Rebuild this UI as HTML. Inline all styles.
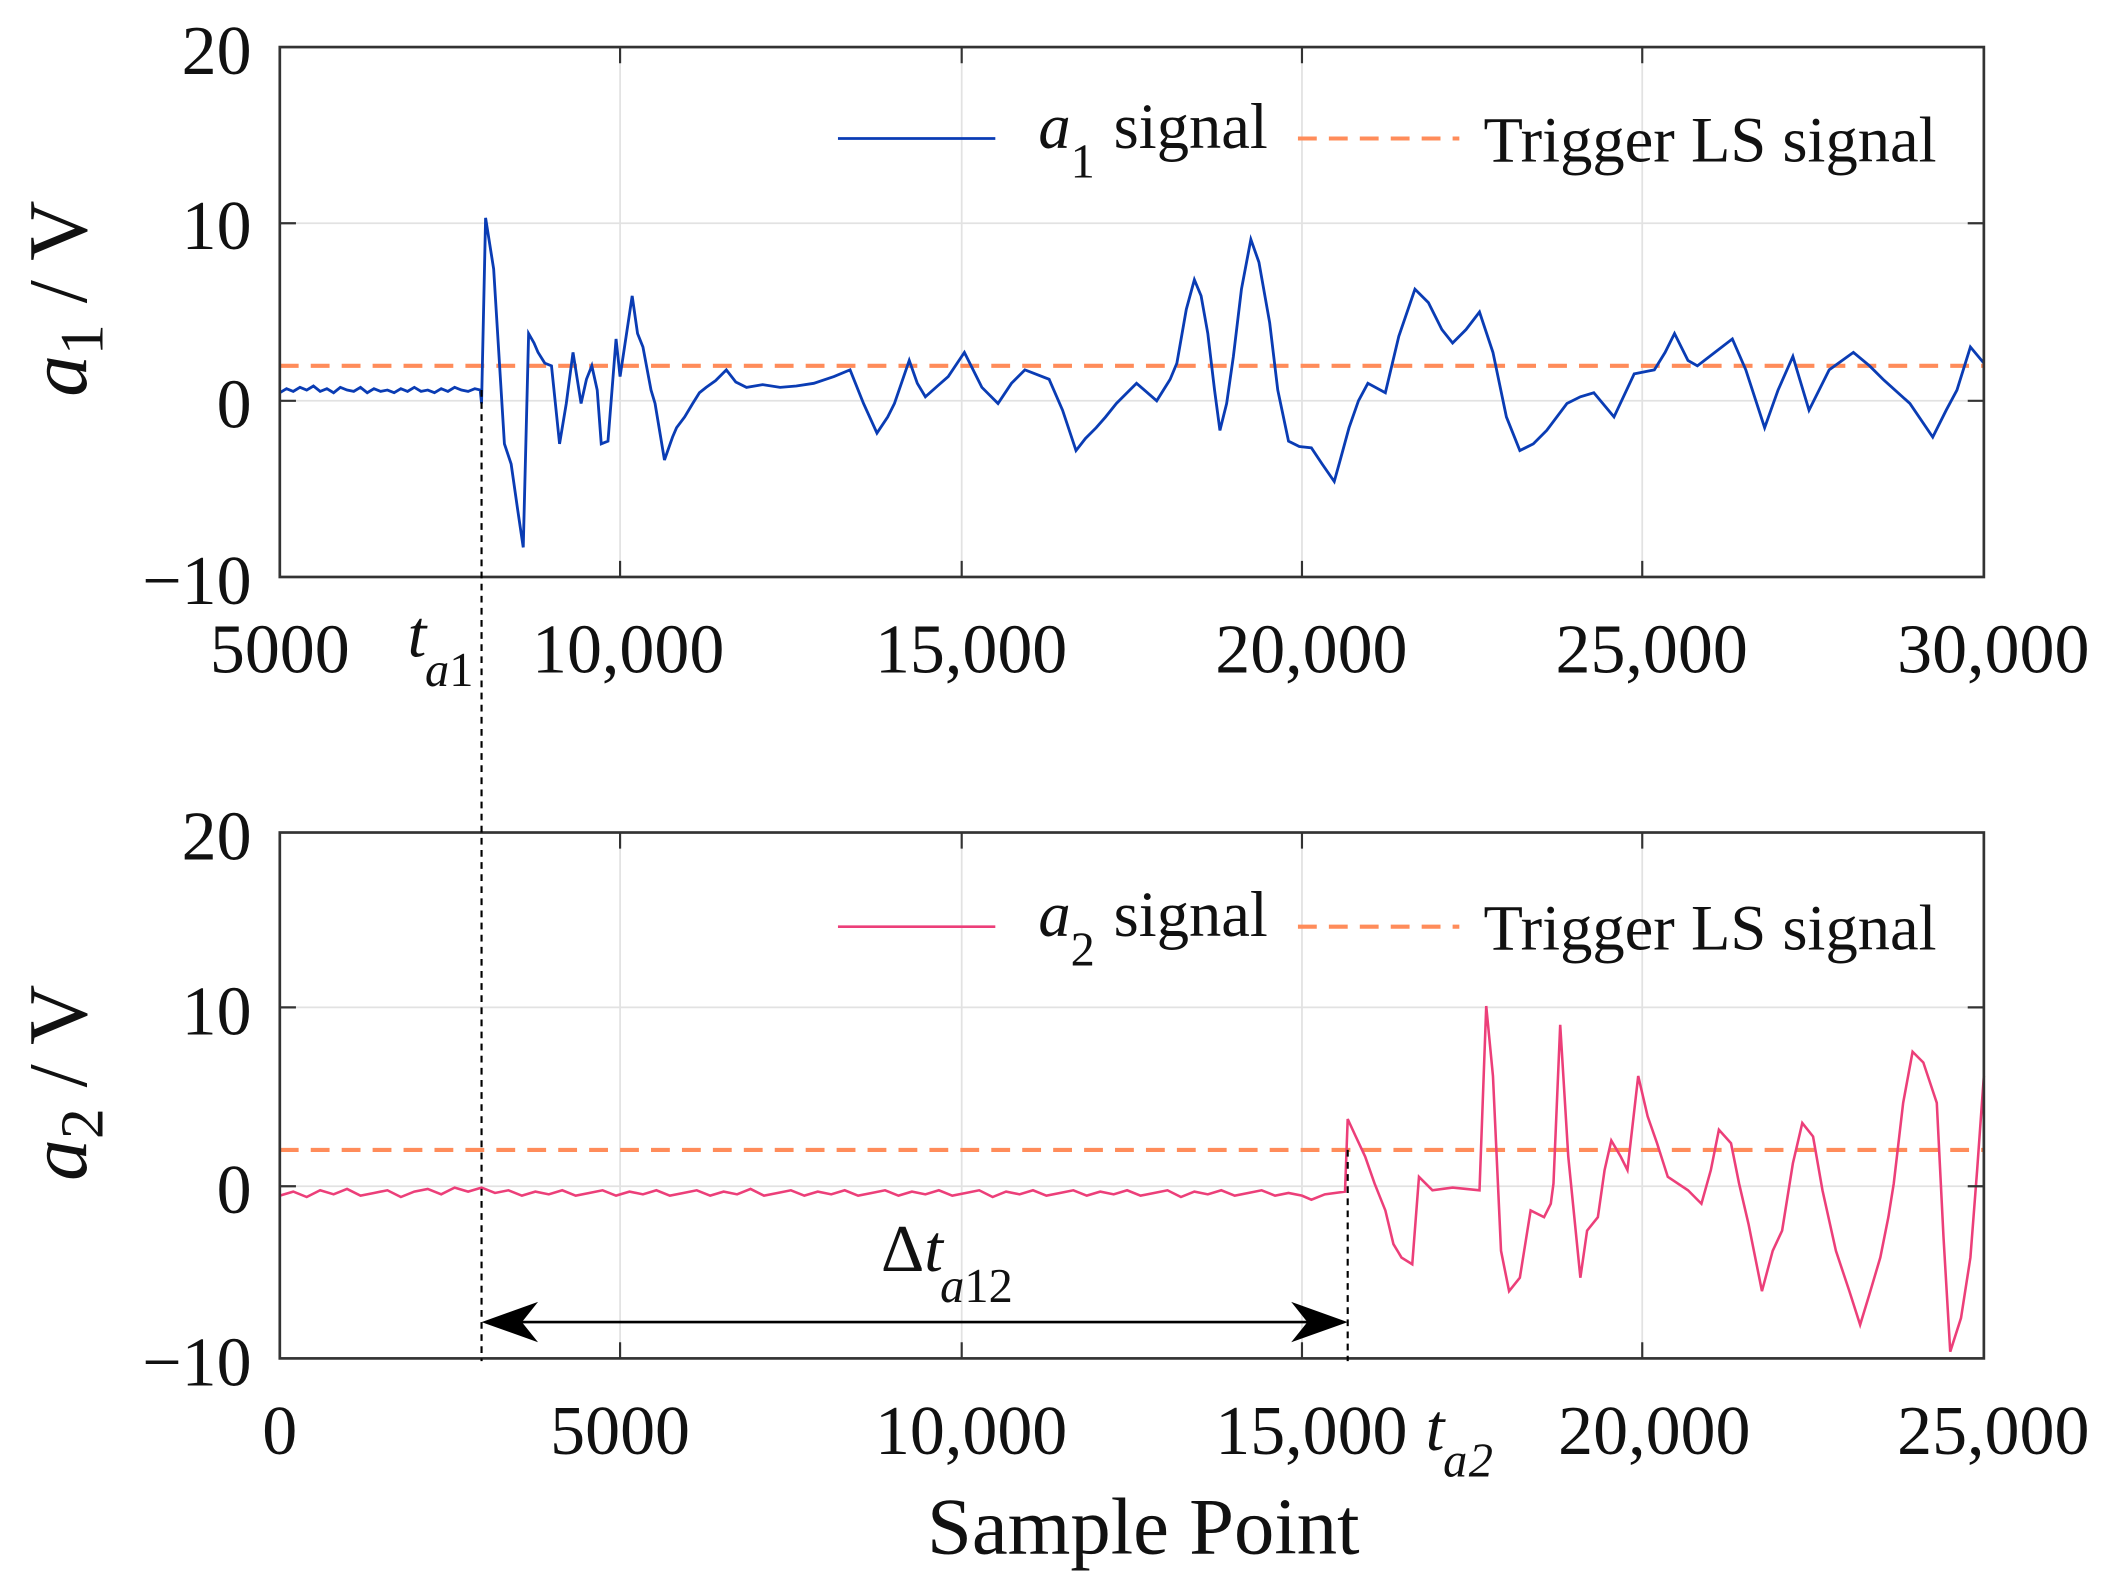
<!DOCTYPE html>
<html><head><meta charset="utf-8"><style>
html,body{margin:0;padding:0;background:#fff;}
svg{display:block;font-family:"Liberation Serif",serif;}
</style></head><body>
<svg width="2109" height="1590" viewBox="0 0 1568 1182.2" xmlns="http://www.w3.org/2000/svg">
<rect width="1568" height="1183" fill="#fff"/>
<g stroke="#e2e2e2" stroke-width="1.3">
<line x1="461" y1="35" x2="461" y2="429"/><line x1="715" y1="35" x2="715" y2="429"/><line x1="968" y1="35" x2="968" y2="429"/><line x1="1221" y1="35" x2="1221" y2="429"/>
<line x1="208" y1="166" x2="1475" y2="166"/><line x1="208" y1="298" x2="1475" y2="298"/>
<line x1="461" y1="619" x2="461" y2="1010"/><line x1="715" y1="619" x2="715" y2="1010"/><line x1="968" y1="619" x2="968" y2="1010"/><line x1="1221" y1="619" x2="1221" y2="1010"/>
<line x1="208" y1="749" x2="1475" y2="749"/><line x1="208" y1="882" x2="1475" y2="882"/>
</g>
<g stroke="#ff8c5a" stroke-width="3" stroke-dasharray="14,9">
<line x1="208" y1="272" x2="1475" y2="272"/>
<line x1="208" y1="855" x2="1475" y2="855"/>
<line x1="965" y1="103" x2="1085" y2="103"/>
<line x1="965" y1="689" x2="1085" y2="689"/>
</g>
<polyline fill="none" stroke="#0a3cb4" stroke-width="2.1" points="208,292 213,289 218,291 223,288 228,290 233,287 238,291 243,289 248,292 253,288 258,290 263,291 268,288 273,292 278,289 283,291 288,290 293,292 298,289 303,291 308,288 313,291 318,290 323,292 328,289 333,291 338,288 343,290 348,291 353,289 357,290 358,300 361,162 367,200 375,330 380,345 385,380 389,407 393,248 397,255 400,262 405,270 410,272 416,330 421,300 426,262 432,300 436,282 440,272 444,290 447,330 452,328 458,252 461,280 467,240 470,220 474,248 478,258 484,290 487,300 494,342 500,325 503,318 509,310 515,300 520,292 525,288 532,283 540,275 547,284 555,288 567,286 580,288 592,287 605,285 620,280 632,275 642,300 652,322 660,310 665,300 676,268 682,285 688,295 697,287 705,280 717,262 730,288 742,300 752,285 762,275 780,282 790,305 800,335 807,326 815,318 822,310 830,300 845,285 860,298 870,282 875,270 882,230 888,208 893,220 898,248 903,290 907,320 912,300 917,265 923,215 930,178 936,195 944,240 950,290 958,328 966,332 975,333 983,345 992,358 997,340 1003,318 1010,298 1017,285 1030,292 1040,250 1052,215 1062,225 1072,245 1080,255 1090,245 1100,232 1110,262 1120,310 1130,335 1140,330 1150,320 1165,300 1175,295 1185,292 1200,310 1215,278 1230,275 1238,262 1245,248 1255,268 1262,272 1275,262 1288,252 1298,275 1312,318 1322,290 1333,265 1345,305 1360,275 1378,262 1390,272 1400,282 1420,300 1437,325 1447,305 1455,290 1465,258 1475,270"/>
<polyline fill="none" stroke="#ec3f79" stroke-width="1.9" points="208,889 218,886 228,890 238,885 248,888 258,884 268,889 278,887 288,885 298,890 308,886 318,884 328,888 338,883 348,886 358,883 368,887 378,885 388,889 398,886 408,888 418,885 428,889 438,887 448,885 458,889 468,886 478,888 488,885 498,889 508,887 518,885 528,889 538,886 548,888 558,884 568,889 578,887 588,885 598,889 608,886 618,888 628,885 638,889 648,887 658,885 668,889 678,886 688,888 698,885 708,889 718,887 728,885 738,890 748,886 758,888 768,885 778,889 788,887 798,885 808,889 818,886 828,888 838,885 848,889 858,887 868,885 878,890 888,886 898,888 908,885 918,889 928,887 938,885 948,889 958,887 968,889 975,892 985,888 1000,886 1002,832 1008,845 1015,860 1022,880 1030,900 1036,925 1042,935 1050,940 1055,875 1060,880 1065,885 1080,883 1100,885 1105,748 1110,800 1116,930 1122,960 1130,950 1138,900 1148,905 1153,895 1155,880 1160,762 1166,860 1175,950 1180,915 1188,905 1193,870 1198,848 1205,860 1210,870 1218,800 1225,830 1232,850 1240,875 1255,885 1265,895 1272,870 1278,840 1287,850 1293,880 1300,910 1310,960 1318,930 1325,915 1333,865 1340,835 1348,845 1355,885 1365,930 1375,960 1383,985 1390,962 1398,935 1404,905 1408,880 1415,820 1422,782 1430,790 1440,820 1445,920 1450,1005 1458,980 1465,935 1470,870 1475,800"/>
<line x1="623" y1="103" x2="740" y2="103" stroke="#0a3cb4" stroke-width="2"/>
<line x1="623" y1="689" x2="740" y2="689" stroke="#ec3f79" stroke-width="2"/>
<g fill="none" stroke="#333" stroke-width="2">
<rect x="208" y="35" width="1267" height="394"/>
<rect x="208" y="619" width="1267" height="391"/>
</g>
<g stroke="#333" stroke-width="1.6">
<path d="M461 35v12M715 35v12M968 35v12M1221 35v12M461 429v-12M715 429v-12M968 429v-12M1221 429v-12M208 166h12M208 298h12M1475 166h-12M1475 298h-12"/>
<path d="M461 619v12M715 619v12M968 619v12M1221 619v12M461 1010v-12M715 1010v-12M968 1010v-12M1221 1010v-12M208 749h12M208 882h12M1475 749h-12M1475 882h-12"/>
</g>
<g stroke="#000" stroke-width="1.6" stroke-dasharray="5,4">
<line x1="358" y1="290" x2="358" y2="1012"/>
<line x1="1002" y1="855" x2="1002" y2="1012"/>
</g>
<line x1="375" y1="983" x2="985" y2="983" stroke="#000" stroke-width="2"/>
<path d="M358 983 L400 968 L388 983 L400 998 Z" fill="#000"/>
<path d="M1002 983 L960 968 L972 983 L960 998 Z" fill="#000"/>
<g font-size="52" fill="#111" text-anchor="end">
<text x="187" y="55">20</text><text x="187" y="185">10</text><text x="187" y="318">0</text><text x="187" y="449">−10</text>
<text x="187" y="639">20</text><text x="187" y="769">10</text><text x="187" y="902">0</text><text x="187" y="1030">−10</text>
</g>
<g font-size="52" fill="#111" text-anchor="middle">
<text x="208" y="500">5000</text><text x="467" y="500">10,000</text><text x="722" y="500">15,000</text><text x="975" y="500">20,000</text><text x="1228" y="500">25,000</text><text x="1482" y="500">30,000</text>
<text x="208" y="1081">0</text><text x="461" y="1081">5000</text><text x="722" y="1081">10,000</text><text x="975" y="1081">15,000</text><text x="1230" y="1081">20,000</text><text x="1482" y="1081">25,000</text>
<text x="850" y="1155" font-size="60">Sample Point</text>
</g>
<g font-size="48" fill="#111">
<text x="303" y="488" font-size="50" font-style="italic">t</text><text x="316" y="510" font-size="36" font-style="italic">a</text><text x="334" y="510" font-size="36">1</text>
<text x="1060" y="1078" font-size="50" font-style="italic">t</text><text x="1073" y="1098" font-size="36" font-style="italic">a</text><text x="1092" y="1098" font-size="36" font-style="italic">2</text>
<text x="655" y="945" font-size="50">Δ<tspan font-style="italic">t</tspan></text><text x="699" y="968" font-size="36" font-style="italic">a</text><text x="717" y="968" font-size="36">12</text>
<text x="772" y="110" font-style="italic">a</text><text x="796" y="132" font-size="36">1</text><text x="828" y="110">signal</text>
<text x="1103" y="120">Trigger LS signal</text>
<text x="772" y="696" font-style="italic">a</text><text x="796" y="718" font-size="36">2</text><text x="828" y="696">signal</text>
<text x="1103" y="706">Trigger LS signal</text>
</g>
<g font-size="62" fill="#111">
<text transform="translate(64,295) rotate(-90)"><tspan font-style="italic">a</tspan><tspan font-size="46" dy="12">1</tspan><tspan dy="-12"> / V</tspan></text>
<text transform="translate(64,878) rotate(-90)"><tspan font-style="italic">a</tspan><tspan font-size="46" dy="12">2</tspan><tspan dy="-12"> / V</tspan></text>
</g>
</svg>
</body></html>
